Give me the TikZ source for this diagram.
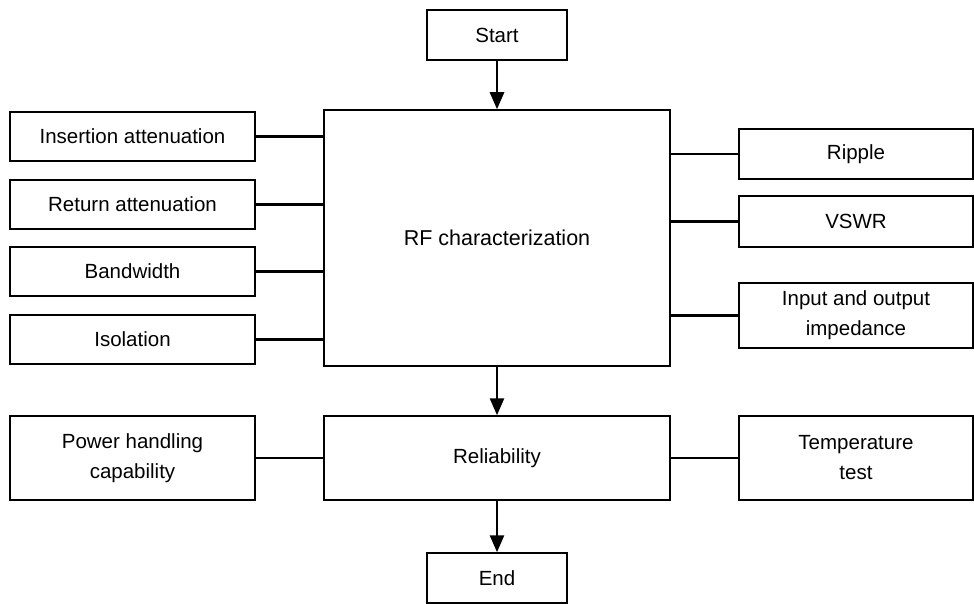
\documentclass[tikz,border=0pt]{standalone}
\usepackage{fontspec}
\setmainfont{Liberation Sans}
\usetikzlibrary{arrows.meta}
\begin{document}
\begin{tikzpicture}[x=1pt,y=-1pt,
  box/.style={draw=black,line width=1.5pt,rectangle,align=center,inner sep=0pt,
    font=\fontsize{20.5}{30}\selectfont},
  lbox/.style={box,minimum width=245pt},
  rbox/.style={box,minimum width=234pt},
  conn/.style={line width=2.7pt},
  arr/.style={line width=2.7pt,-{Triangle[length=17pt,width=14pt]}}]
\useasboundingbox (0,0) rectangle (974,604);
\node[box,minimum width=140pt,minimum height=50pt] (start) at (497,35) {Start};
\node[box,minimum width=346pt,minimum height=256pt,font=\fontsize{21.5}{30}\selectfont] (rf) at (497,238) {RF characterization};
\node[box,minimum width=346pt,minimum height=84pt] (rel) at (497,458) {Reliability};
\node[box,minimum width=140pt,minimum height=50pt] (end) at (497,578) {End};
\node[lbox,minimum height=49pt] (ins) at (132.5,136.5) {Insertion attenuation};
\node[lbox,minimum height=49pt] (ret) at (132.5,204.5) {Return attenuation};
\node[lbox,minimum height=49pt] (bw) at (132.5,271.5) {Bandwidth};
\node[lbox,minimum height=49pt] (iso) at (132.5,339.5) {Isolation};
\node[lbox,minimum height=84pt] (pow) at (132.5,458) {Power handling\\capability};
\node[rbox,minimum height=50pt] (rip) at (856,154) {Ripple};
\node[rbox,minimum height=51pt] (vswr) at (856,221.5) {VSWR};
\node[rbox,minimum height=65pt] (io) at (856,315.5) {Input and output\\impedance};
\node[rbox,minimum height=84pt] (temp) at (856,458) {Temperature\\test};
\draw[arr] (start.south) -- (rf.north);
\draw[arr] (rf.south) -- (rel.north);
\draw[arr] (rel.south) -- (end.north);
\foreach \n in {ins,ret,bw,iso,pow}{\draw[conn] (\n.east) -- (\n.east -| rf.west);}
\foreach \n in {rip,vswr,io,temp}{\draw[conn] (\n.west) -- (\n.west -| rf.east);}
\end{tikzpicture}
\end{document}
